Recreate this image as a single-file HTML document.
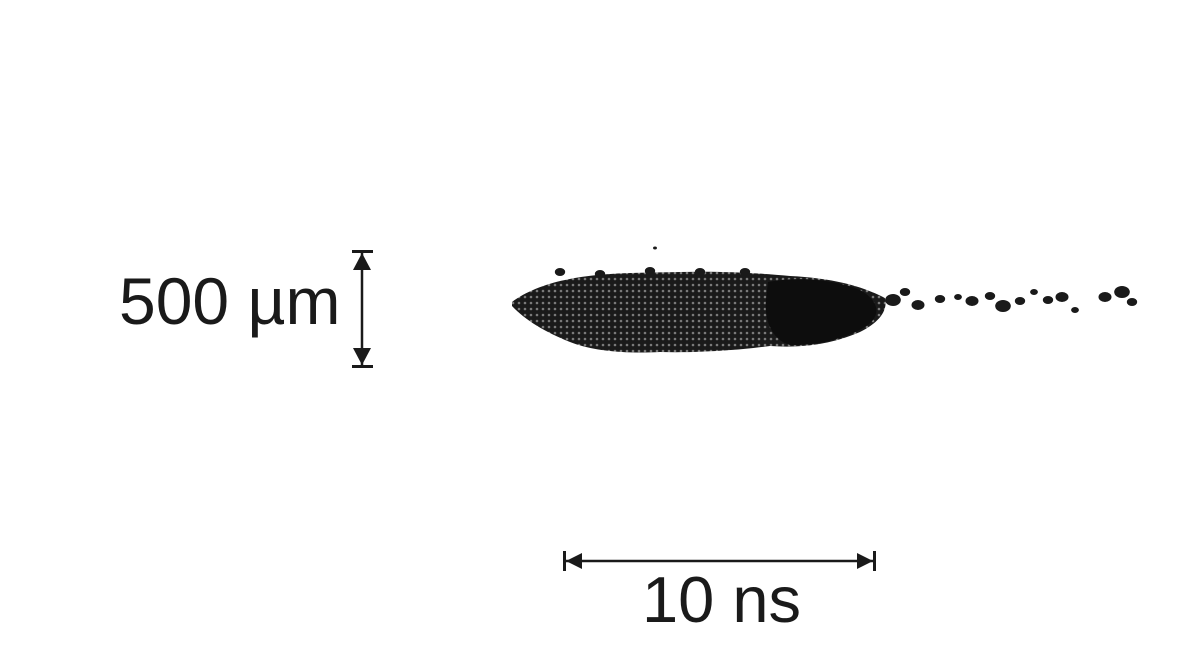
<!DOCTYPE html>
<html><head><meta charset="utf-8"><style>
html,body{margin:0;padding:0;background:#fff;}
svg{display:block}
text{font-family:"Liberation Sans",Arial,sans-serif;fill:#1a1a1a}
</style></head><body>
<svg width="1181" height="645" viewBox="0 0 1181 645">
<defs>
<pattern id="dots" width="6" height="6" patternUnits="userSpaceOnUse">
<rect width="6" height="6" fill="#1a1a1a"/>
<circle cx="3" cy="3" r="1.3" fill="#7a7a7a"/>
</pattern>
</defs>
<g>
<path d="M512,302 C525,292 545,284 565,280 C600,272 640,273 680,272 C720,271 760,273 790,276 C830,278 860,285 885,298 C888,310 880,322 860,332 C830,345 800,348 770,346 C740,350 700,353 660,352 C620,354 590,350 570,342 C545,332 525,320 512,306 Z" fill="url(#dots)"/>
<path d="M768,282 C800,276 835,280 860,290 C878,300 882,314 868,325 C850,337 820,346 790,345 C772,340 764,320 766,300 Z" fill="#0d0d0d"/>
<g fill="#1a1a1a" id="tail"></g>
</g>
<g stroke="#1a1a1a" fill="#1a1a1a">
<line x1="362" y1="253" x2="362" y2="366" stroke-width="2.5"/>
<rect x="352" y="250" width="21" height="3" stroke="none"/>
<polygon points="362,253 353,270 371,270" stroke="none"/>
<rect x="352" y="365" width="21" height="3" stroke="none"/>
<polygon points="362,365 353,348 371,348" stroke="none"/>
</g>
<text x="119" y="324" font-size="66">500 µm</text>
<g fill="#1a1a1a">
<line x1="566" y1="561" x2="873" y2="561" stroke="#1a1a1a" stroke-width="2.5"/>
<rect x="563" y="551" width="3" height="20"/>
<rect x="873" y="551" width="3" height="20"/>
<polygon points="566,561 582,553 582,569"/>
<polygon points="873,561 857,553 857,569"/>
</g>
<text x="642" y="622" font-size="65">10 ns</text>
</svg>
<script>
const fragX=[893,905,918,940,958,972,990,1003,1020,1034,1048,1062,1075,1105,1122,1132,560,600,650,700,745,655];
const fragY=[300,292,305,299,297,301,296,306,301,292,300,297,310,297,292,302,272,274,271,272,272,248];
const fragR=[6,4,5,4,3,5,4,6,4,3,4,5,3,5,6,4,4,4,4,4,4,1.5];
const g=document.getElementById('tail');
for(let i=0;i<fragX.length;i++){
  const e=document.createElementNS('http://www.w3.org/2000/svg','ellipse');
  
  
  e.setAttribute('cx',fragX[i]);e.setAttribute('cy',fragY[i]);
  e.setAttribute('rx',fragR[i]*1.3);e.setAttribute('ry',fragR[i]);
  g.appendChild(e);
}
</script>
</body></html>
